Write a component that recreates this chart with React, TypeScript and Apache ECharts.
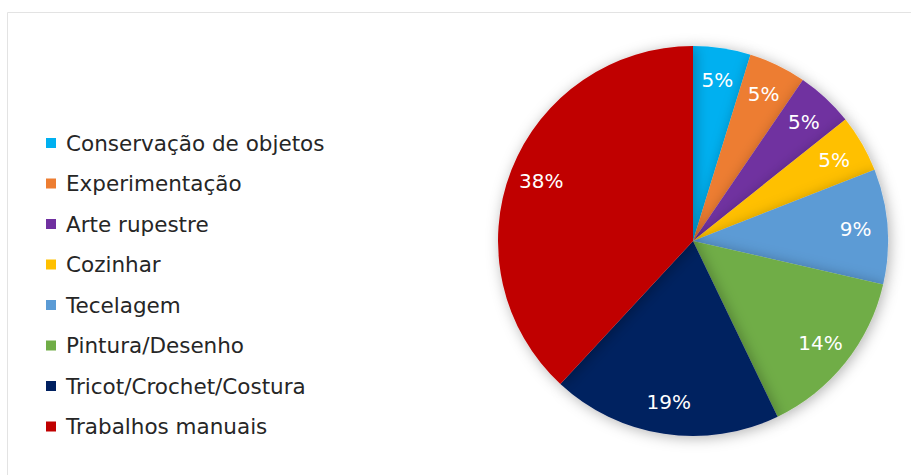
import React, { useEffect, useRef } from "react";
import * as echarts from "echarts";

const categories = [
  "Conservação de objetos",
  "Experimentação",
  "Arte rupestre",
  "Cozinhar",
  "Tecelagem",
  "Pintura/Desenho",
  "Tricot/Crochet/Costura",
  "Trabalhos manuais",
];
const values = [1, 1, 1, 1, 2, 3, 4, 8];
const percentLabels = ["5%", "5%", "5%", "5%", "9%", "14%", "19%", "38%"];
const colors = ["#00B0F0", "#ED7D31", "#7030A0", "#FFC000", "#5B9BD5", "#70AD47", "#002060", "#C00000"];

export default function App() {
  const ref = useRef<HTMLDivElement>(null);
  useEffect(() => {
    if (!ref.current) return;
    const chart = echarts.init(ref.current, undefined, { renderer: "svg" });
    const data = categories.map((name, i) => ({ name, value: values[i], itemStyle: { color: colors[i] } }));
    chart.setOption({
      animation: false,
      backgroundColor: "#ffffff",
      graphic: [
        {
          type: "rect",
          shape: { x: 7.5, y: 12.5, width: 1000, height: 1000 },
          style: { fill: "none", stroke: "#E3E3E3", lineWidth: 1 },
          silent: true,
          z: -10,
        },
      ],
      legend: {
        orient: "vertical",
        left: 41,
        top: 127,
        itemWidth: 10,
        itemHeight: 10,
        itemGap: 18.5,
        icon: "rect",
        data: categories,
        textStyle: { fontFamily: "DejaVu Sans", fontSize: 21.5, color: "#262626", lineHeight: 22, padding: [0, 0, 0, 5] },
      },
      series: [
        {
          type: "pie",
          center: [693, 241],
          radius: [0, 195],
          startAngle: 90,
          clockwise: true,
          silent: true,
          label: { show: false },
          labelLine: { show: false },
          itemStyle: { shadowBlur: 14, shadowColor: "rgba(0,0,0,0.3)", shadowOffsetX: 2, shadowOffsetY: 2 },
          data,
        },
        {
          type: "pie",
          center: [693, 241],
          radius: [125, 195],
          startAngle: 90,
          clockwise: true,
          silent: true,
          itemStyle: { color: "transparent" },
          label: {
            show: true,
            position: "inside",
            formatter: (p: any) => percentLabels[p.dataIndex],
            color: "#ffffff",
            fontFamily: "DejaVu Sans",
            fontSize: 20,
          },
          labelLine: { show: false },
          data: categories.map((name, i) => ({ name, value: values[i], itemStyle: { color: "transparent" } })),
        },
      ],
    });
    return () => chart.dispose();
  }, []);
  return <div ref={ref} style={{ position: "absolute", left: 0, top: 0, width: 911, height: 475 }} />;
}
